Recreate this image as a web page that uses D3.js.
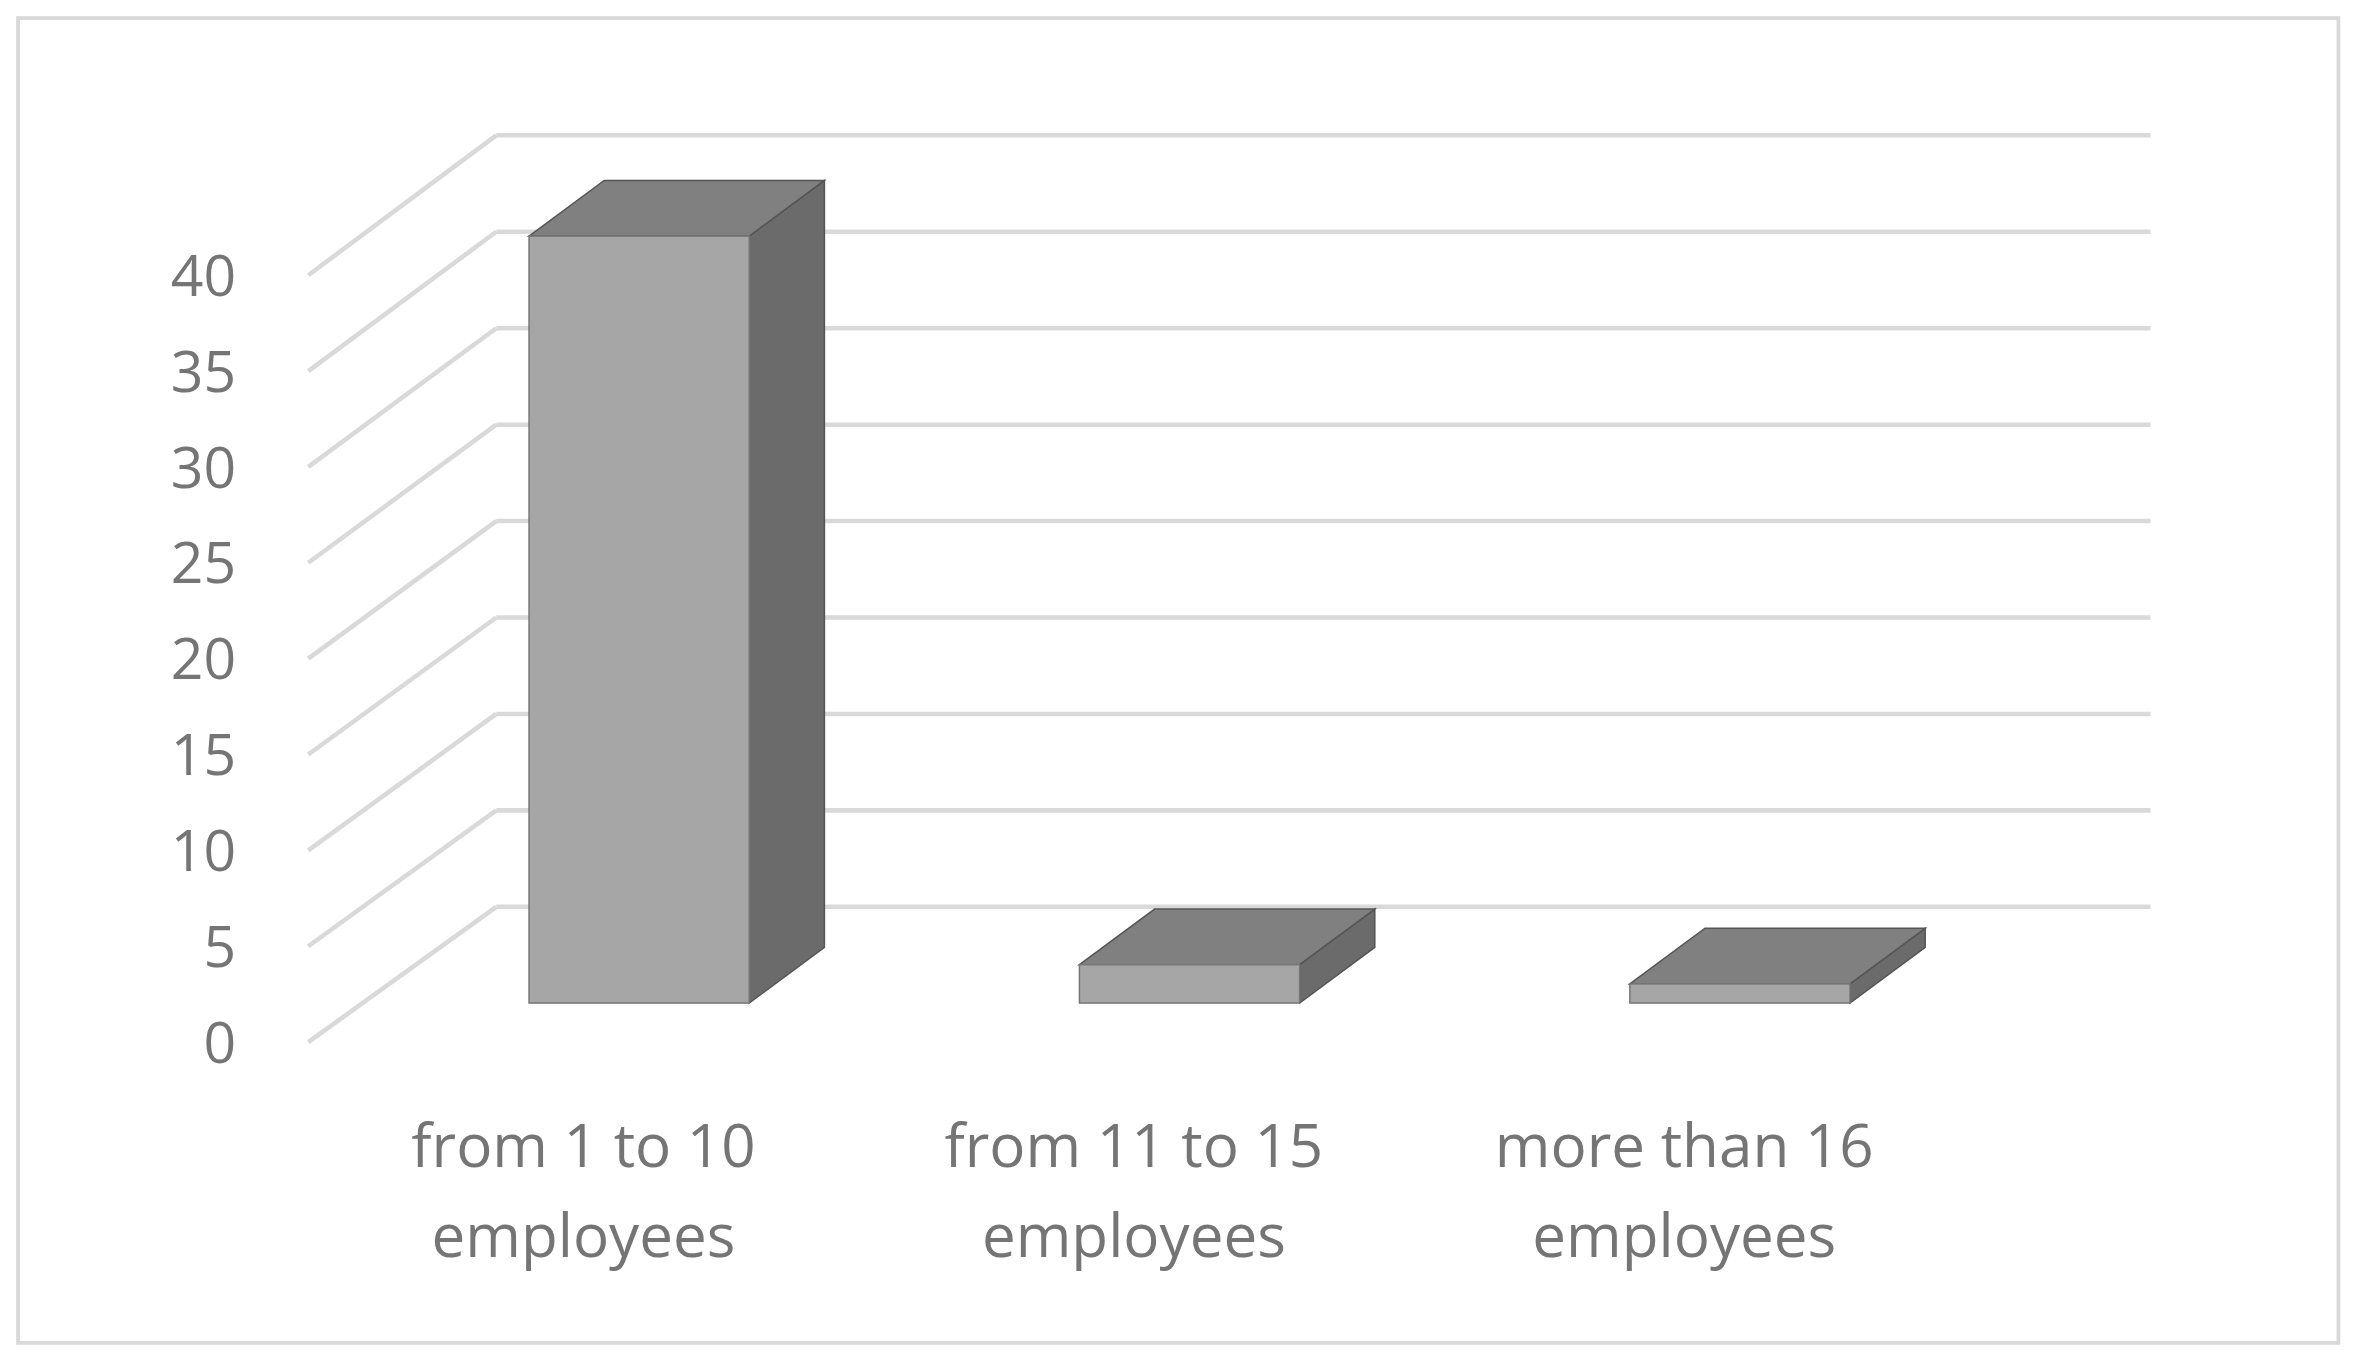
<!DOCTYPE html>
<html><head><meta charset="utf-8">
<script src="https://cdn.jsdelivr.net/npm/d3@7"></script>
<style>body{margin:0;background:#fff}</style>
</head><body>
<script>
// chart data
const categories = ["from 1 to 10 employees", "from 11 to 15 employees", "more than 16 employees"];
const labelLines = [["from 1 to 10", "employees"], ["from 11 to 15", "employees"], ["more than 16", "employees"]];
const values = [40, 2, 1];
const yTicks = [0, 5, 10, 15, 20, 25, 30, 35, 40];

const W = 2358, H = 1365, k = W / 1568;
const svg = d3.select("body").append("svg").attr("width", W).attr("height", H);
const g = svg.append("g").attr("transform", `scale(${k})`);

g.append("rect").attr("x", 12).attr("y", 12).attr("width", 1543).attr("height", 881)
  .attr("fill", "#fff").attr("stroke", "#d9d9d9").attr("stroke-width", 2.5);

// front edge, back wall, bar plane
const yFront = d3.scaleLinear().domain([0, 40]).range([693, 183]);
const yBack = d3.scaleLinear().domain([0, 40]).range([603, 90]);
const yBar = d3.scaleLinear().domain([0, 40]).range([667, 157]);
const x = d3.scaleBand().domain(categories).range([242, 1340]).paddingInner(0.6).paddingOuter(0.3);
const dx = 50, dy = -37;

const grid = "#d9d9d9";
yTicks.forEach(t => {
  g.append("line").attr("x1", 330).attr("x2", 1430).attr("y1", yBack(t)).attr("y2", yBack(t))
    .attr("stroke", grid).attr("stroke-width", 3);
  g.append("line").attr("x1", 205).attr("x2", 330).attr("y1", yFront(t)).attr("y2", yBack(t))
    .attr("stroke", grid).attr("stroke-width", 3);
});

g.selectAll(".ytick").data(yTicks).join("text")
  .attr("x", 157).attr("y", d => yFront(d)).attr("dy", "0.36em")
  .attr("text-anchor", "end").attr("font-family", "'Open Sans', Lato, sans-serif")
  .attr("font-size", 38).attr("fill", "#757575").text(d => d);

categories.forEach((c, i) => {
  const x0 = x(c), w = x.bandwidth(), yt = yBar(values[i]), yb = yBar(0);
  // side
  g.append("path").attr("d", `M${x0 + w},${yt}L${x0 + w + dx},${yt + dy}L${x0 + w + dx},${yb + dy}L${x0 + w},${yb}Z`)
    .attr("fill", "#6b6b6b").attr("stroke", "#555").attr("stroke-width", 1);
  // top
  g.append("path").attr("d", `M${x0},${yt}L${x0 + dx},${yt + dy}L${x0 + w + dx},${yt + dy}L${x0 + w},${yt}Z`)
    .attr("fill", "#808080").attr("stroke", "#555").attr("stroke-width", 1);
  // front
  g.append("rect").attr("x", x0).attr("y", yt).attr("width", w).attr("height", yb - yt)
    .attr("fill", "#a6a6a6").attr("stroke", "#777").attr("stroke-width", 1);
  const t = g.append("text").attr("text-anchor", "middle")
    .attr("font-family", "'Open Sans', Lato, sans-serif").attr("font-size", 40).attr("fill", "#757575");
  labelLines[i].forEach((l, j) => t.append("tspan").attr("x", x0 + w / 2 - 37).attr("y", 776 + j * 60).text(l));
});
</script>
</body></html>
